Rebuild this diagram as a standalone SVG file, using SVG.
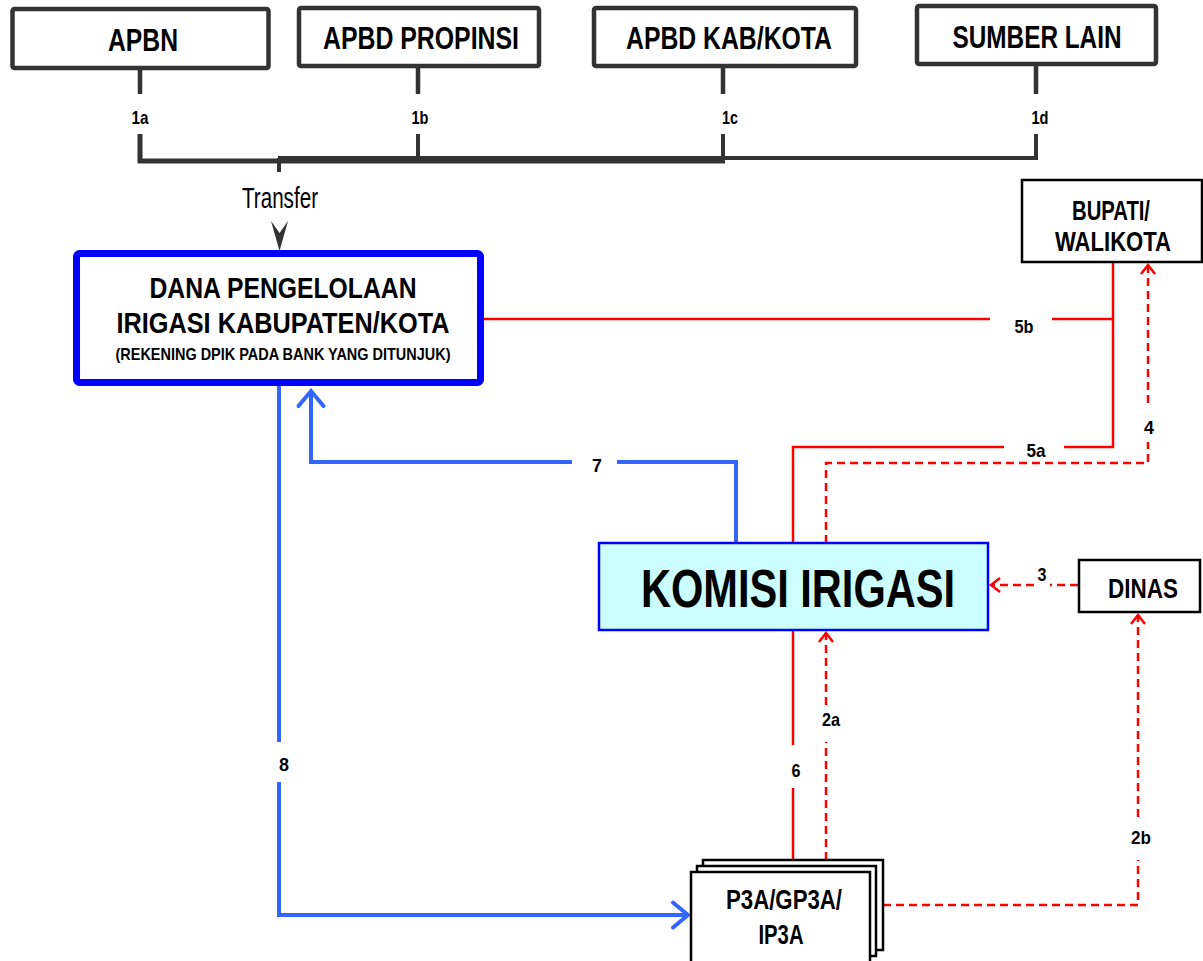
<svg xmlns="http://www.w3.org/2000/svg" width="1203" height="961" viewBox="0 0 1203 961">
<style>
text{font-family:"Liberation Sans",Arial,sans-serif;fill:#000;text-anchor:middle}
.b{font-weight:bold}
.src{fill:#fff;stroke:#333;stroke-width:4.5}
.box{fill:#fff;stroke:#000;stroke-width:2.5}
.dk{fill:none;stroke:#333;stroke-linecap:butt}
.rs{fill:none;stroke:#ff0000;stroke-width:2.5}
.rd{fill:none;stroke:#ff0000;stroke-width:2.5;stroke-dasharray:8 5}
.bl{fill:none;stroke:#3366ff;stroke-width:4}
.lbl{font-weight:bold;font-size:19px}
</style>
<defs>
<marker id="ra" viewBox="-12 -10 14 20" refX="0" refY="0" markerWidth="14" markerHeight="20" markerUnits="userSpaceOnUse" orient="auto" overflow="visible">
<path d="M-9,-7 L0,0 L-9,7" fill="none" stroke="#ff0000" stroke-width="2.5" stroke-dasharray="none"/>
</marker>
<marker id="ba" viewBox="-20 -16 22 32" refX="0" refY="0" markerWidth="22" markerHeight="32" markerUnits="userSpaceOnUse" orient="auto" overflow="visible">
<path d="M-15,-12.5 L0,0 L-15,12.5" fill="none" stroke="#3366ff" stroke-width="4" stroke-linecap="round"/>
</marker>
</defs>

<g id="connectors">
<path class="dk" stroke-width="4.5" d="M140,70 V94 M418,68 V94 M723,68 V94 M1036,66 V94"/>
<path class="dk" stroke-width="5" d="M140,134 V161 H725"/>
<path class="dk" stroke-width="4" d="M278,158 H1036 V134 M723,134 V158 M418,134 V158 M279,158 V172"/>
<polygon points="271,221 279.5,233 288,221 279.5,251" fill="#333"/>
<path class="rs" d="M484,319 H990 M1052,319 H1113 M1113,262 V447 H1064 M1004,447 H793 V543"/>
<path class="rd" d="M826,543 V463 H1148 V442"/>
<path class="rd" d="M1148,403 V265" marker-end="url(#ra)"/>
<path class="bl" d="M736,543 V462 H617"/>
<path class="bl" d="M572,462 H311 V391" marker-end="url(#ba)"/>
<path class="bl" d="M279,386 V742"/>
<path class="bl" d="M279,782 V915 H688" marker-end="url(#ba)"/>
<path class="rs" d="M793,630 V745 M793,788 V860"/>
<path class="rd" d="M826,860 V742"/>
<path class="rd" d="M826,705 V633" marker-end="url(#ra)"/>
<path class="rd" d="M1078,585 H1050"/>
<path class="rd" d="M1034,585 H991" marker-end="url(#ra)"/>
<path class="rd" d="M883,905 H1138 V860"/>
<path class="rd" d="M1138,817 V615" marker-end="url(#ra)"/>
</g>

<g id="labels">
<text class="lbl" x="140" y="124" textLength="17" lengthAdjust="spacingAndGlyphs">1a</text>
<text class="lbl" x="420" y="124" textLength="17" lengthAdjust="spacingAndGlyphs">1b</text>
<text class="lbl" x="730" y="124" textLength="16" lengthAdjust="spacingAndGlyphs">1c</text>
<text class="lbl" x="1040" y="124" textLength="17" lengthAdjust="spacingAndGlyphs">1d</text>
<text x="280" y="208" font-size="29" textLength="76" lengthAdjust="spacingAndGlyphs">Transfer</text>
<text class="lbl" x="1024" y="333" textLength="19" lengthAdjust="spacingAndGlyphs">5b</text>
<text class="lbl" x="1036" y="457" textLength="19" lengthAdjust="spacingAndGlyphs">5a</text>
<text class="lbl" x="1149" y="434" textLength="10" lengthAdjust="spacingAndGlyphs">4</text>
<text class="lbl" x="597" y="472" textLength="10" lengthAdjust="spacingAndGlyphs">7</text>
<text class="lbl" x="1042" y="581" textLength="9" lengthAdjust="spacingAndGlyphs">3</text>
<text class="lbl" x="831" y="726" textLength="18" lengthAdjust="spacingAndGlyphs">2a</text>
<text class="lbl" x="796" y="777" textLength="9" lengthAdjust="spacingAndGlyphs">6</text>
<text class="lbl" x="284" y="771" textLength="10" lengthAdjust="spacingAndGlyphs">8</text>
<text class="lbl" x="1141" y="844" textLength="20" lengthAdjust="spacingAndGlyphs">2b</text>
</g>

<g id="apbn">
<rect class="src" x="12.5" y="9" width="256" height="59" rx="2"/>
<text class="b" x="143" y="51" font-size="31" textLength="70" lengthAdjust="spacingAndGlyphs">APBN</text>
</g>
<g id="apbd-propinsi">
<rect class="src" x="299" y="8" width="240" height="58" rx="2"/>
<text class="b" x="421" y="49" font-size="31" textLength="196" lengthAdjust="spacingAndGlyphs">APBD PROPINSI</text>
</g>
<g id="apbd-kabkota">
<rect class="src" x="594" y="8" width="262" height="58" rx="2"/>
<text class="b" x="729" y="49" font-size="31" textLength="206" lengthAdjust="spacingAndGlyphs">APBD KAB/KOTA</text>
</g>
<g id="sumber-lain">
<rect class="src" x="917" y="6" width="239" height="58" rx="2"/>
<text class="b" x="1037" y="48" font-size="31" textLength="169" lengthAdjust="spacingAndGlyphs">SUMBER LAIN</text>
</g>

<g id="dana">
<rect x="76.5" y="253.5" width="404" height="129" rx="3" fill="#fff" stroke="#0000ff" stroke-width="7"/>
<text class="b" x="283" y="298" font-size="29" textLength="267" lengthAdjust="spacingAndGlyphs">DANA PENGELOLAAN</text>
<text class="b" x="283" y="333" font-size="29" textLength="333" lengthAdjust="spacingAndGlyphs">IRIGASI KABUPATEN/KOTA</text>
<text class="b" x="283" y="360" font-size="17" textLength="335" lengthAdjust="spacingAndGlyphs">(REKENING DPIK PADA BANK YANG DITUNJUK)</text>
</g>

<g id="bupati">
<rect class="box" x="1022" y="180" width="180" height="82"/>
<text class="b" x="1111" y="220" font-size="28" textLength="78" lengthAdjust="spacingAndGlyphs">BUPATI/</text>
<text class="b" x="1113" y="251" font-size="28" textLength="116" lengthAdjust="spacingAndGlyphs">WALIKOTA</text>
</g>

<g id="komisi">
<rect x="599" y="543" width="389" height="87" fill="#ccffff" stroke="#0000ff" stroke-width="2.5"/>
<text class="b" transform="translate(798 607) scale(0.77 1)" x="0" y="0" font-size="54">KOMISI IRIGASI</text>
</g>

<g id="dinas">
<rect class="box" x="1079" y="560" width="121" height="52"/>
<text class="b" x="1143" y="598" font-size="27" textLength="70" lengthAdjust="spacingAndGlyphs">DINAS</text>
</g>

<g id="p3a">
<rect class="box" x="703" y="860" width="180" height="90"/>
<rect class="box" x="697" y="866" width="179" height="90"/>
<rect class="box" x="691" y="872" width="179" height="100"/>
<text class="b" x="784" y="909" font-size="27" textLength="116" lengthAdjust="spacingAndGlyphs">P3A/GP3A/</text>
<text class="b" x="781" y="944" font-size="27" textLength="45" lengthAdjust="spacingAndGlyphs">IP3A</text>
</g>
</svg>
